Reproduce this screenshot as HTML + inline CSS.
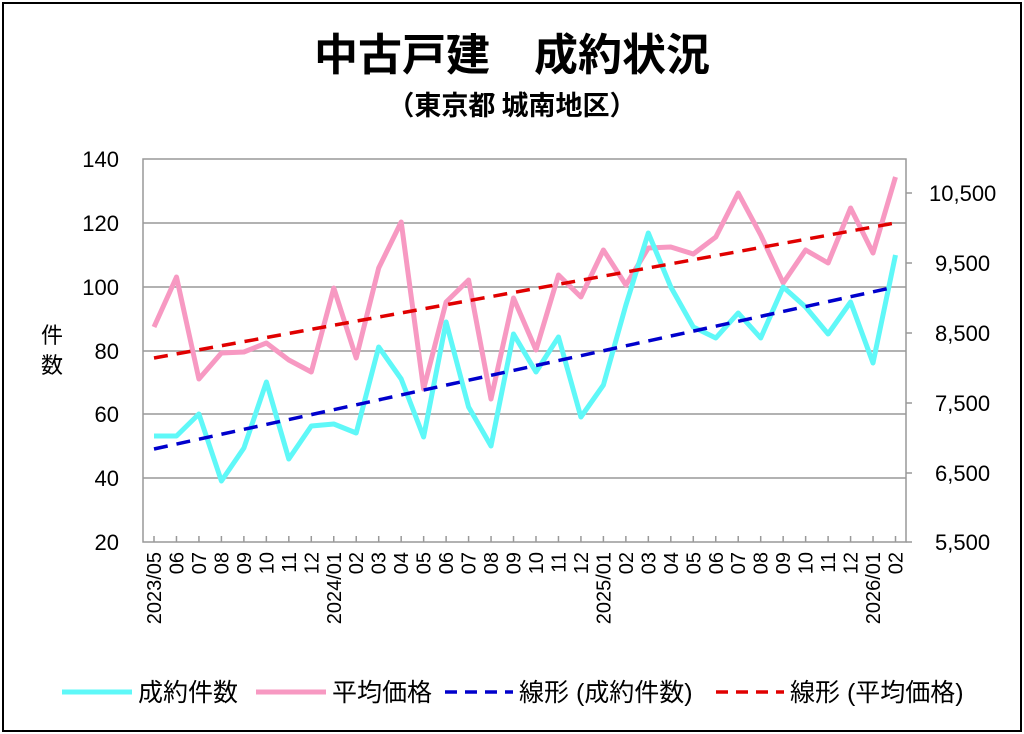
<!DOCTYPE html>
<html><head><meta charset="utf-8"><style>
html,body{margin:0;padding:0;background:#fff;}
svg{display:block;font-family:"Liberation Sans","Noto Sans CJK JP",sans-serif;}
</style></head><body>
<svg width="1024" height="734" viewBox="0 0 1024 734" xmlns="http://www.w3.org/2000/svg">
<rect x="3" y="3" width="1018" height="728" fill="#fff" stroke="#000" stroke-width="2"/>
<text x="512" y="70" text-anchor="middle" font-size="44" font-weight="bold" font-family="'Noto Sans CJK JP',sans-serif">中古戸建　成約状況</text>
<text x="512" y="115" text-anchor="middle" font-size="27" font-weight="bold" font-family="'Noto Sans CJK JP',sans-serif">（東京都 城南地区）</text>
<g stroke="#999" stroke-width="1.5">
<line x1="143" y1="223" x2="906" y2="223"/><line x1="143" y1="287" x2="906" y2="287"/>
<line x1="143" y1="351" x2="906" y2="351"/><line x1="143" y1="414" x2="906" y2="414"/>
<line x1="143" y1="478" x2="906" y2="478"/>
<rect x="143" y="159" width="763" height="383" fill="none"/>
<line x1="906" y1="193" x2="912" y2="193"/><line x1="906" y1="263" x2="912" y2="263"/>
<line x1="906" y1="333" x2="912" y2="333"/><line x1="906" y1="403" x2="912" y2="403"/>
<line x1="906" y1="473" x2="912" y2="473"/><line x1="906" y1="542" x2="912" y2="542"/>
</g>
<g id="ticks" stroke="#999" stroke-width="1.5"></g>
<g font-size="22" text-anchor="end">
<text x="119" y="167">140</text><text x="119" y="231">120</text><text x="119" y="295">100</text>
<text x="119" y="359">80</text><text x="119" y="422">60</text><text x="119" y="486">40</text><text x="119" y="550">20</text>
</g>
<g font-size="22" text-anchor="start">
<text x="929" y="201">10,500</text><text x="935" y="271">9,500</text><text x="935" y="341">8,500</text>
<text x="935" y="411">7,500</text><text x="935" y="481">6,500</text><text x="935" y="550">5,500</text>
</g>
<text x="52" y="343" font-size="22" text-anchor="middle" font-family="'Noto Sans CJK JP',sans-serif">件</text>
<text x="52" y="373" font-size="22" text-anchor="middle" font-family="'Noto Sans CJK JP',sans-serif">数</text>
<g id="xl" font-size="20"></g>
<polyline id="pink" fill="none" stroke="#f799c2" stroke-width="5" stroke-linejoin="round"/>
<polyline id="cyan" fill="none" stroke="#5ff8f8" stroke-width="5" stroke-linejoin="round"/>
<line x1="154" y1="449" x2="895" y2="287" stroke="#0000cc" stroke-width="3.5" stroke-dasharray="14,9"/>
<line x1="154" y1="358" x2="895" y2="223" stroke="#e00000" stroke-width="3.5" stroke-dasharray="14,9"/>
<g font-size="25" font-family="'Liberation Sans','Noto Sans CJK JP',sans-serif">
<line x1="62" y1="692" x2="132" y2="692" stroke="#5ff8f8" stroke-width="5"/><text x="138" y="701">成約件数</text>
<line x1="256" y1="692" x2="326" y2="692" stroke="#f799c2" stroke-width="5"/><text x="332" y="701">平均価格</text>
<line x1="445" y1="692" x2="513" y2="692" stroke="#0000cc" stroke-width="3.5" stroke-dasharray="12,8"/><text x="519" y="701">線形 (成約件数)</text>
<line x1="716" y1="692" x2="784" y2="692" stroke="#e00000" stroke-width="3.5" stroke-dasharray="12,8"/><text x="790" y="701">線形 (平均価格)</text>
</g>
</svg>
<script>
var pink=[327,277,379,353,352,343,360,372,288,358,268,222,389,302,280,399,298,350,275,297,250,285,248,247,254,237,193,235,283,250,263,208,253,177];
var cyan=[436,436,414,481,448,382,459,426,424,433,347,379,437,322,407,446,334,372,337,417,385,305,233,287,327,338,313,338,287,307,334,302,363,255];
var labs=["2023/05","06","07","08","09","10","11","12","2024/01","02","03","04","05","06","07","08","09","10","11","12","2025/01","02","03","04","05","06","07","08","09","10","11","12","2026/01","02"];
function X(i){return 154+22.47*i;}
document.getElementById('pink').setAttribute('points',pink.map(function(y,i){return X(i).toFixed(1)+','+y}).join(' '));
document.getElementById('cyan').setAttribute('points',cyan.map(function(y,i){return X(i).toFixed(1)+','+y}).join(' '));
var ns="http://www.w3.org/2000/svg",t=document.getElementById('ticks'),xl=document.getElementById('xl');
for(var i=0;i<34;i++){var l=document.createElementNS(ns,'line');l.setAttribute('x1',X(i));l.setAttribute('x2',X(i));l.setAttribute('y1',536);l.setAttribute('y2',542);t.appendChild(l);
var tx=document.createElementNS(ns,'text');var x=X(i)+7;tx.setAttribute('transform','translate('+x+',552) rotate(-90)');tx.setAttribute('text-anchor','end');tx.textContent=labs[i];xl.appendChild(tx);}
</script>
</body></html>
